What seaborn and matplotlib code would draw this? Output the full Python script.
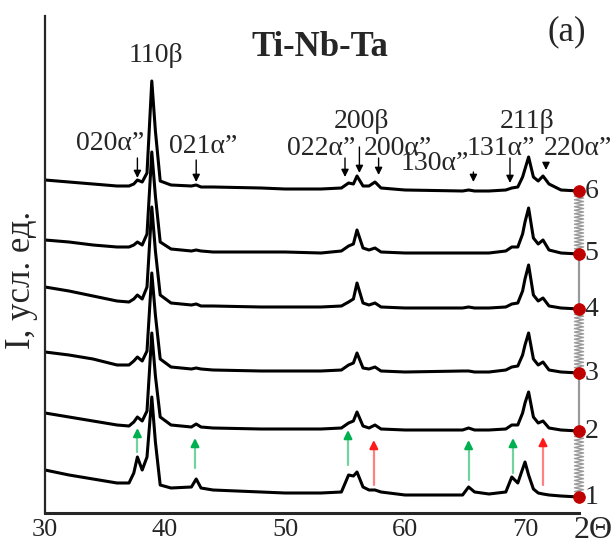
import numpy as np
import pandas as pd
import seaborn as sns
import matplotlib
matplotlib.use('Agg')
import matplotlib.pyplot as plt

# 2-theta grid shared by all six patterns
two_theta = [30, 32, 34, 36, 37.0, 37.4, 37.7, 38.1, 38.5, 38.9, 39.2, 39.6, 40.5, 42.2, 42.6,
             43.0, 44, 48, 50, 53, 54.7, 55.3, 55.7, 56.0, 56.5, 57.0, 57.5, 58.0, 60, 64.8,
             65.3, 65.8, 67, 68.4, 68.9, 69.4, 69.8, 70.0, 70.3, 70.7, 71.1, 71.5, 72.0, 73, 74.5]

# intensity (a.u.) above each pattern's own baseline
s1 = [27, 22, 18, 14, 14, 24, 40, 27, 40, 100, 55, 12, 9, 10, 18,
      9, 7, 5, 4, 4, 5, 22, 21, 25, 10, 7, 7, 5, 2, 2,
      10, 5, 3, 5, 20, 14, 28, 35, 22, 8, 4, 3, 2, 1, 0]
s2 = [18, 14, 10, 6, 5, 9, 14, 10, 20, 98, 55, 14, 6, 4, 7,
      4, 3, 2, 2, 2, 3, 8, 10, 19, 5, 3, 6, 2, 1, 1,
      3, 1, 1, 2, 6, 6, 18, 28, 39, 14, 8, 10, 3, 1, 0]
s3 = [21, 18, 14, 8, 8, 12, 16, 12, 22, 100, 58, 14, 6, 4, 5,
      4, 3, 2, 2, 2, 3, 8, 10, 20, 5, 4, 6, 2, 1, 2,
      2, 1, 1, 3, 6, 7, 18, 28, 40, 14, 8, 11, 3, 1, 0]
s4 = [22, 18, 13, 8, 7, 10, 14, 10, 22, 102, 58, 14, 6, 4, 5,
      3, 3, 2, 2, 2, 3, 7, 10, 26, 6, 4, 6, 2, 1, 1,
      2, 1, 1, 2, 5, 6, 18, 30, 44, 14, 8, 11, 3, 1, 0]
s5 = [14, 12, 9, 7, 7, 9, 12, 9, 20, 102, 58, 12, 5, 3, 4,
      3, 2, 2, 2, 1, 3, 8, 10, 24, 6, 4, 6, 2, 1, 1,
      1, 1, 1, 3, 7, 7, 20, 32, 46, 16, 10, 14, 4, 1, 0]
s6 = [11, 9, 7, 5, 5, 7, 11, 9, 18, 110, 60, 10, 6, 5, 6,
      4, 4, 3, 2, 2, 3, 8, 7, 15, 5, 5, 9, 3, 1, 0,
      1, 0, 0, 1, 3, 4, 14, 22, 34, 14, 10, 15, 7, 1, 0]
patterns = ['1', '2', '3', '4', '5', '6']
offsets = [16, 82, 140, 204, 259, 322]

# reflection labels
peak_labels = ['110β', '020α”', '021α”', '022α”', '200β', '200α”', '130α”', '131α”', '211β', '220α”']
label_x = [39.25, 35.4, 43.2, 53.0, 56.4, 59.4, 62.5, 68.0, 70.2, 74.4]
label_y = [451, 363, 360, 358, 385, 358, 343, 358, 385, 358]

# black down arrows above pattern 6
mark_x = [37.7, 42.6, 55.0, 56.2, 57.8, 65.7, 68.75, 71.75]
mark_top = [355, 353, 355, 366, 355, 341, 355, 350]
mark_bot = [335, 331, 336, 340, 338, 331, 330, 343]

# coloured up arrows between patterns 1 and 2
green_x = [37.7, 42.5, 55.25, 65.3, 69.0]
green_lo = [61, 45, 48, 33, 40]
green_hi = [85, 75, 83, 73, 75]
red_x = [57.4, 71.5]
red_lo = [28, 28]
red_hi = [73, 76]

sns.set_style('white')
plt.rcParams['font.family'] = ['Liberation Serif', 'DejaVu Serif']

rows = []
for name, vals, off in zip(patterns, [s1, s2, s3, s4, s5, s6], offsets):
    for t, v in zip(two_theta, vals):
        rows.append({'2theta': t, 'I': v + off, 'pattern': name})
df = pd.DataFrame(rows)

fig = plt.figure(figsize=(6.16, 5.46), dpi=100)
ax = fig.add_axes([45 / 616, 33 / 546, 534 / 616, 497 / 546])

sns.lineplot(data=df, x='2theta', y='I', hue='pattern', units='pattern', estimator=None,
             sort=False, palette=['black'] * 6, linewidth=2.2, legend=False, ax=ax)

x_end = two_theta[-1]
grey = '#9a9a9a'
# springs and rods connecting the pattern ends
for i in range(5):
    ya, yb = offsets[i], offsets[i + 1]
    if i % 2 == 0:
        n = int(round((yb - ya) / 3.6))
        ys = np.linspace(ya, yb, 2 * n + 1)
        xs = np.full(len(ys), x_end)
        xs[1:-1:2] -= 0.38
        xs[2:-1:2] += 0.38
        ax.plot(xs, ys, color=grey, lw=1.0, clip_on=False, zorder=3)
    else:
        ax.plot([x_end, x_end], [ya, yb], color=grey, lw=1.6, clip_on=False, zorder=3)

sns.scatterplot(x=[x_end] * 6, y=offsets, color='#c00000', s=70, edgecolor='#c00000',
                zorder=5, clip_on=False, ax=ax)
for name, off in zip(patterns, offsets):
    ax.text(x_end + 0.45, off, name, fontsize=20, ha='left', va='center', clip_on=False)

for lab, x, y in zip(peak_labels, label_x, label_y):
    ax.text(x, y, lab, fontsize=20, ha='center', va='baseline', clip_on=False)

for x, y0, y1 in zip(mark_x, mark_top, mark_bot):
    ax.annotate('', xy=(x, y1), xytext=(x, y0),
                arrowprops=dict(arrowstyle='-|>', color='black', lw=1.0, mutation_scale=11,
                                shrinkA=0, shrinkB=0))

for xs_, los, his, c in [(green_x, green_lo, green_hi, '#00b050'), (red_x, red_lo, red_hi, '#ff1a1a')]:
    for x, y0, y1 in zip(xs_, los, his):
        ax.plot([x, x], [y0, y1 - 6], color=c, alpha=0.55, lw=1.6)
        ax.annotate('', xy=(x, y1), xytext=(x, y1 - 7),
                    arrowprops=dict(arrowstyle='-|>', color=c, lw=1.6, mutation_scale=12,
                                    shrinkA=0, shrinkB=0))

ax.text(52.9, 466, 'Ti-Nb-Ta', fontsize=25, fontweight='bold', ha='center', va='center')
ax.text(73.5, 481, '(a)', fontsize=25, ha='center', va='center', clip_on=False)
ax.text(75.7, -17, '2Θ', fontsize=23, ha='center', va='center', clip_on=False)
fig.text(22 / 616, 1 - 280 / 546, 'I, усл. ед.', fontsize=25, rotation=90,
         ha='center', va='center')

ax.set_xlim(30, 74.5)
ax.set_ylim(0, 497)
ax.set_xticks([30, 40, 50, 60, 70])
ax.set_yticks([])
ax.set_xlabel('')
ax.set_ylabel('')
ax.tick_params(axis='x', direction='out', length=4, width=1.5, pad=0, labelsize=19)
ax.spines['top'].set_visible(False)
ax.spines['right'].set_visible(False)
ax.spines['left'].set_linewidth(1.6)
ax.spines['bottom'].set_linewidth(2.2)

fig.savefig('out.png', dpi=100)
